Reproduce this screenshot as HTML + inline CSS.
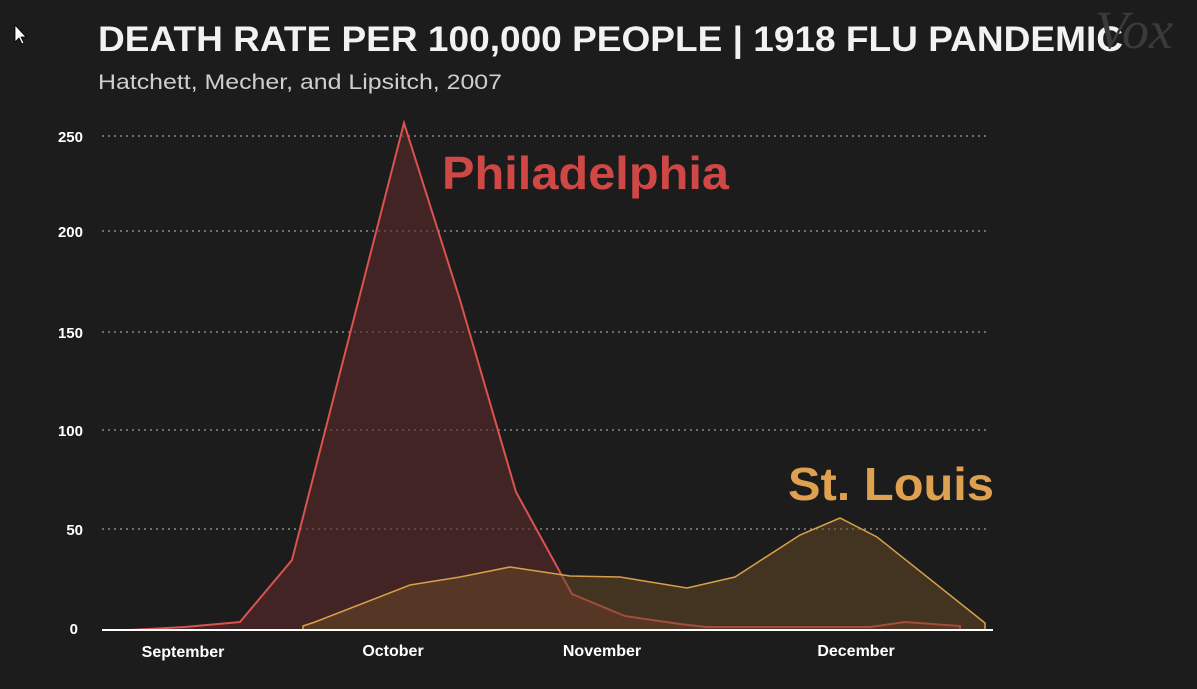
<!DOCTYPE html>
<html><head><style>
body{margin:0;background:#1c1c1c;width:1197px;height:684px;overflow:hidden;font-family:"Liberation Sans",sans-serif;}
</style></head><body>
<svg width="1197" height="684" xmlns="http://www.w3.org/2000/svg">
<rect width="1197" height="684" fill="#1c1c1c"/>
<text x="98" y="51" fill="#f2f2f2" font-size="35" font-weight="bold" textLength="1025" lengthAdjust="spacingAndGlyphs">DEATH RATE PER 100,000 PEOPLE | 1918 FLU PANDEMIC</text>
<text x="1095" y="48" fill="#3a3a3a" font-size="54" font-style="italic" font-family="Liberation Serif">Vox</text>
<text x="98" y="89" fill="#cfcfcf" font-size="21" textLength="404" lengthAdjust="spacingAndGlyphs">Hatchett, Mecher, and Lipsitch, 2007</text>
<g fill="#fff" font-size="15" font-weight="bold" text-anchor="end">
<text x="83" y="142">250</text><text x="83" y="237">200</text><text x="83" y="338">150</text><text x="83" y="436">100</text><text x="83" y="535">50</text><text x="78" y="634">0</text>
</g>
<g stroke="#8a8a8a" stroke-width="1.5" stroke-dasharray="2,4">
<line x1="102" y1="136" x2="990" y2="136"/><line x1="102" y1="231" x2="990" y2="231"/><line x1="102" y1="332" x2="990" y2="332"/><line x1="102" y1="430" x2="990" y2="430"/><line x1="102" y1="529" x2="990" y2="529"/>
</g>
<polygon fill="#5c2a2a" fill-opacity="0.6" stroke="#d9534f" stroke-width="2" points="130,630 185,627 240,622 292,560 404,123 460,300 516,492 572,594 625,616 680,624 706,627 780,627 870,627 905,622 960,626 960,630 130,630"/>
<polygon fill="#6a4a25" fill-opacity="0.5" stroke="#d9a04a" stroke-width="1.5" points="303,626 315,622 410,585 460,577 510,567 570,576 620,577 687,588 735,577 800,535 840,518 877,537 985,623 985,630 303,630"/>
<line x1="102" y1="630" x2="993" y2="630" stroke="#fff" stroke-width="2"/>
<g fill="#fff" font-size="16" font-weight="bold" text-anchor="middle">
<text x="183" y="657">September</text><text x="393" y="656">October</text><text x="602" y="656">November</text><text x="856" y="656">December</text>
</g>
<text x="442" y="189" fill="#d04845" font-size="46" font-weight="bold" textLength="287" lengthAdjust="spacingAndGlyphs">Philadelphia</text>
<text x="788" y="500" fill="#dea150" font-size="46" font-weight="bold" textLength="206" lengthAdjust="spacingAndGlyphs">St. Louis</text>
<polygon points="15,25 15,42 19,38 22,44 24,43 21,37 26,37" fill="#fff" stroke="#000" stroke-width="0.8"/>
</svg>
</body></html>
